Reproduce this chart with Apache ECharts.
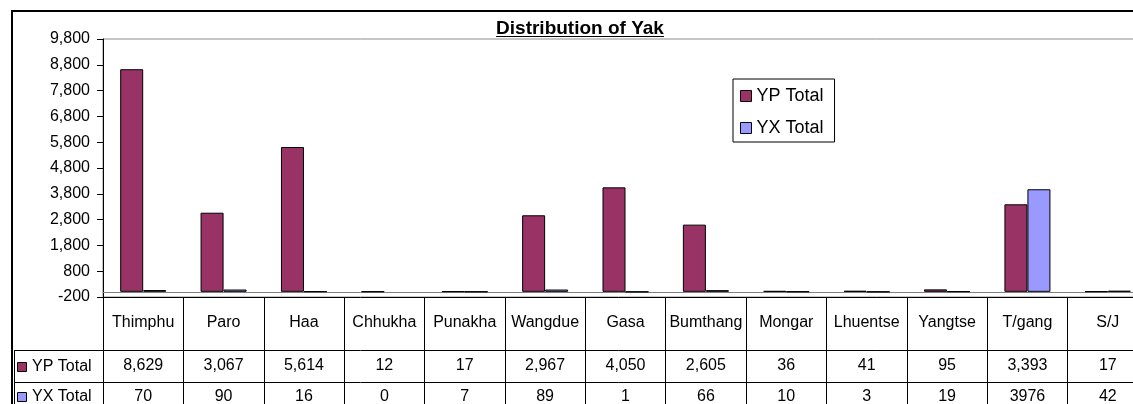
<!DOCTYPE html>
<html>
<head>
<meta charset="utf-8">
<title>Distribution of Yak</title>
<script src="https://cdn.jsdelivr.net/npm/echarts@6/dist/echarts.min.js"></script>
<style>
  html, body { margin: 0; padding: 0; background: #fff; }
  #chart { width: 1133px; height: 404px; }
</style>
</head>
<body>
<div id="chart"></div>
<script>
// data
var districts = ['Thimphu', 'Paro', 'Haa', 'Chhukha', 'Punakha', 'Wangdue', 'Gasa',
                 'Bumthang', 'Mongar', 'Lhuentse', 'Yangtse', 'T/gang', 'S/J'];
var ypTotal = [8629, 3067, 5614, 12, 17, 2967, 4050, 2605, 36, 41, 95, 3393, 17];
var yxTotal = [70, 90, 16, 0, 7, 89, 1, 66, 10, 3, 19, 3976, 42];
var seriesNames = ['YP Total', 'YX Total'];
var seriesColors = ['#993366', '#9999FF'];

// value axis: -200 .. 9,800 every 1,000
var yMin = -200;
var yMax = 9800;
var yStep = 1000;

var FONT = '"Liberation Sans", Arial, sans-serif';
var titleText = 'Distribution of Yak';

window.onload = function () {
    var chart = echarts.init(document.getElementById('chart'));

    // measure the title so the underline fits it
    var ctx = document.createElement('canvas').getContext('2d');
    ctx.font = 'bold 19px "Liberation Sans"';
    var titleW = ctx.measureText(titleText).width;
    var titleCx = 580;

    function fmt(v) { return Number(v).toLocaleString('en-US'); }

    // one x axis per row of the data table
    function tableAxis(offset, tickLen, margin, formatter) {
        return {
            type: 'category',
            data: districts,
            position: 'bottom',
            offset: offset,
            axisLine: { show: true, onZero: false, lineStyle: { color: '#000', width: 1 } },
            axisTick: { show: true, interval: 0, length: tickLen, lineStyle: { color: '#000', width: 1 } },
            axisLabel: {
                interval: 0, margin: margin, verticalAlign: 'middle',
                fontSize: 16, color: '#000', fontFamily: FONT,
                formatter: formatter
            },
            splitLine: { show: false }
        };
    }

    var option = {
        animation: false,
        backgroundColor: '#fff',
        textStyle: { fontFamily: FONT },
        title: {
            text: titleText,
            left: titleCx - titleW / 2,
            top: 19,
            padding: 0,
            textStyle: { fontFamily: FONT, fontSize: 19, fontWeight: 'bold', color: '#000' }
        },
        legend: {
            orient: 'vertical',
            left: 733,
            top: 79,
            padding: [8, 11, 5, 7],
            itemGap: 14,
            itemWidth: 11,
            itemHeight: 11,
            icon: 'rect',
            borderColor: '#000',
            borderWidth: 1,
            backgroundColor: '#fff',
            itemStyle: { borderColor: '#000', borderWidth: 1 },
            textStyle: { fontFamily: FONT, fontSize: 18, color: '#000' },
            data: seriesNames
        },
        grid: {
            left: 103,
            top: 39,
            width: 1045,
            height: 258,
            show: true,
            borderColor: '#8c8c8c',
            borderWidth: 1,
            backgroundColor: 'transparent',
            containLabel: false,
            outerBoundsMode: 'none'
        },
        xAxis: [
            tableAxis(0, 53, 26, function (v) { return v; }),
            tableAxis(53, 32, 16, function (v, i) { return fmt(ypTotal[i]); }),
            tableAxis(85, 30, 15, function (v, i) { return String(yxTotal[i]); }),
            {
                // grey line at value 0
                type: 'category',
                data: districts,
                position: 'bottom',
                axisLine: { show: true, onZero: true, lineStyle: { color: '#808080', width: 1 } },
                axisTick: { show: false },
                axisLabel: { show: false },
                splitLine: { show: false }
            }
        ],
        yAxis: {
            type: 'value',
            min: yMin,
            max: yMax,
            interval: yStep,
            axisLine: { show: true, lineStyle: { color: '#000', width: 1 } },
            axisTick: { show: true, length: 6, lineStyle: { color: '#000' } },
            axisLabel: { margin: 13, fontSize: 16, color: '#000', fontFamily: FONT, formatter: fmt },
            splitLine: { show: false }
        },
        series: seriesNames.map(function (name, k) {
            var vals = k === 0 ? ypTotal : yxTotal;
            return {
                name: name,
                type: 'bar',
                xAxisIndex: 0,
                yAxisIndex: 0,
                barWidth: 23,
                barGap: '0%',
                itemStyle: { color: seriesColors[k], borderColor: '#000', borderWidth: 1 },
                emphasis: { disabled: true },
                data: vals.map(function (v) {
                    return v === 0 ? { value: v, itemStyle: { borderWidth: 0 } } : v;
                })
            };
        }),
        graphic: [
            // chart frame
            { type: 'rect', shape: { x: 12, y: 11, width: 1400, height: 600 },
              style: { fill: 'none', stroke: '#000', lineWidth: 2 }, silent: true },
            // title underline
            { type: 'line', shape: { x1: titleCx - titleW / 2, y1: 36.5, x2: titleCx + titleW / 2, y2: 36.5 },
              style: { stroke: '#000', lineWidth: 1.2 }, silent: true },
            // left column of the data table
            { type: 'line', shape: { x1: 14.5, y1: 350, x2: 14.5, y2: 410 }, style: { stroke: '#000', lineWidth: 1 } },
            { type: 'line', shape: { x1: 14, y1: 350.5, x2: 103, y2: 350.5 }, style: { stroke: '#000', lineWidth: 1 } },
            { type: 'line', shape: { x1: 14, y1: 382.5, x2: 103, y2: 382.5 }, style: { stroke: '#000', lineWidth: 1 } },
            { type: 'rect', shape: { x: 17.5, y: 362.5, width: 9, height: 9 },
              style: { fill: seriesColors[0], stroke: '#000', lineWidth: 1 } },
            { type: 'text', x: 32, y: 367,
              style: { text: seriesNames[0], font: '16px ' + FONT, fill: '#000', verticalAlign: 'middle' } },
            { type: 'rect', shape: { x: 17.5, y: 392.5, width: 9, height: 9 },
              style: { fill: seriesColors[1], stroke: '#000', lineWidth: 1 } },
            { type: 'text', x: 32, y: 397,
              style: { text: seriesNames[1], font: '16px ' + FONT, fill: '#000', verticalAlign: 'middle' } }
        ]
    };

    chart.setOption(option);
};
</script>
</body>
</html>
